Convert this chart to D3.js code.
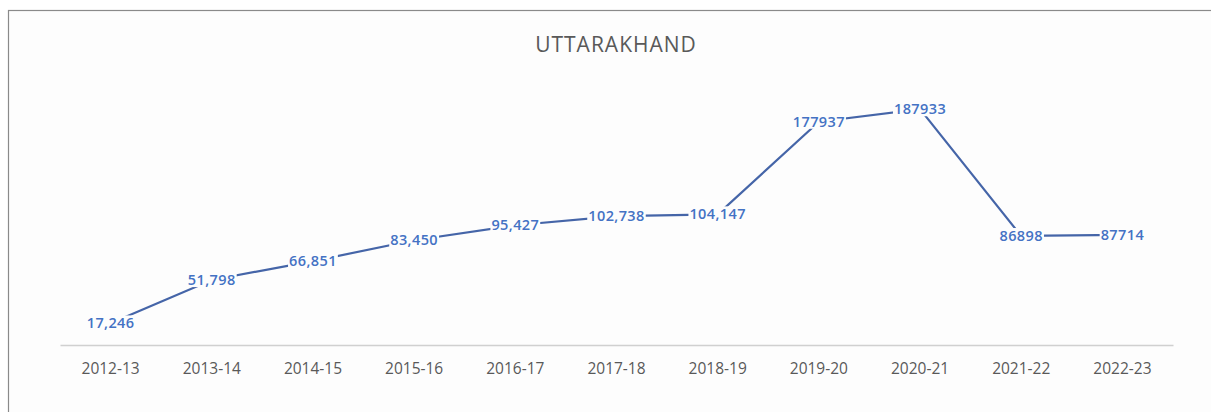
<!DOCTYPE html>
<html lang="en">
<head>
  <meta charset="UTF-8" />
  <title>Uttarakhand</title>
  <style>
    body {
      margin: 0;
      background: #fff;
      font-family: "Open Sans", Arial, sans-serif;
    }
  </style>
  <script src="https://d3js.org/d3.v7.min.js"></script>
</head>
<body>
  <div id="chart"></div>
  <script>
    const width = 1211;
    const height = 412;

    // chart data
    const years = ["2012-13", "2013-14", "2014-15", "2015-16", "2016-17", "2017-18",
                   "2018-19", "2019-20", "2020-21", "2021-22", "2022-23"];
    const values = [17246, 51798, 66851, 83450, 95427, 102738, 104147, 177937, 187933, 86898, 87714];
    const labels = ["17,246", "51,798", "66,851", "83,450", "95,427", "102,738", "104,147",
                    "177937", "187933", "86898", "87714"];

    const margin = { left: 60, right: 38, top: 94, bottom: 67 };

    const svg = d3.select("#chart")
      .append("svg")
      .attr("width", width)
      .attr("height", height);

    // outer frame (only top & left edges are in view)
    svg.append("rect")
      .attr("x", 8.5)
      .attr("y", 10.5)
      .attr("width", width + 20)
      .attr("height", height + 20)
      .attr("fill", "#fdfdfd")
      .attr("stroke", "#8a8a8a")
      .attr("stroke-width", 1.2);

    const x = d3.scaleBand()
      .domain(years)
      .range([margin.left, width - margin.right]);

    const y = d3.scaleLinear()
      .domain([0, 200000])
      .range([height - margin.bottom, margin.top]);

    // title
    svg.append("text")
      .attr("x", 616)
      .attr("y", 52)
      .attr("text-anchor", "middle")
      .attr("font-size", 21)
      .attr("letter-spacing", 1)
      .attr("fill", "#595959")
      .text("UTTARAKHAND");

    // x axis
    const xAxis = svg.append("g")
      .attr("transform", `translate(0,${y(0)})`)
      .call(d3.axisBottom(x).tickSize(0).tickPadding(18));
    xAxis.select(".domain").attr("stroke", "#d0d0d0").attr("stroke-width", 1.5);
    xAxis.selectAll("text")
      .attr("font-size", 15.5)
      .attr("font-family", "\"Open Sans\", Arial, sans-serif")
      .attr("fill", "#595959");

    const px = (d, i) => x(years[i]) + x.bandwidth() / 2;

    // line
    const line = d3.line()
      .x((d, i) => px(d, i))
      .y(d => y(d));

    svg.append("path")
      .datum(values)
      .attr("fill", "none")
      .attr("stroke", "#4565a8")
      .attr("stroke-width", 2.2)
      .attr("d", line);

    // data labels with white backgrounds, centred on the points
    const lab = svg.append("g").selectAll("g")
      .data(values)
      .join("g")
      .attr("transform", (d, i) => `translate(${px(d, i)},${y(d)})`);

    lab.append("text")
      .attr("text-anchor", "middle")
      .attr("dy", "0.35em")
      .attr("font-size", 14.5)
      .attr("font-weight", 600)
      .attr("letter-spacing", 0.4)
      .attr("fill", "#4472c4")
      .text((d, i) => labels[i]);

    lab.each(function () {
      const g = d3.select(this);
      const bb = g.select("text").node().getBBox();
      g.insert("rect", "text")
        .attr("x", bb.x - 1)
        .attr("y", bb.y + 2)
        .attr("width", bb.width + 2)
        .attr("height", bb.height - 4)
        .attr("fill", "#fdfdfd");
    });
  </script>
</body>
</html>
